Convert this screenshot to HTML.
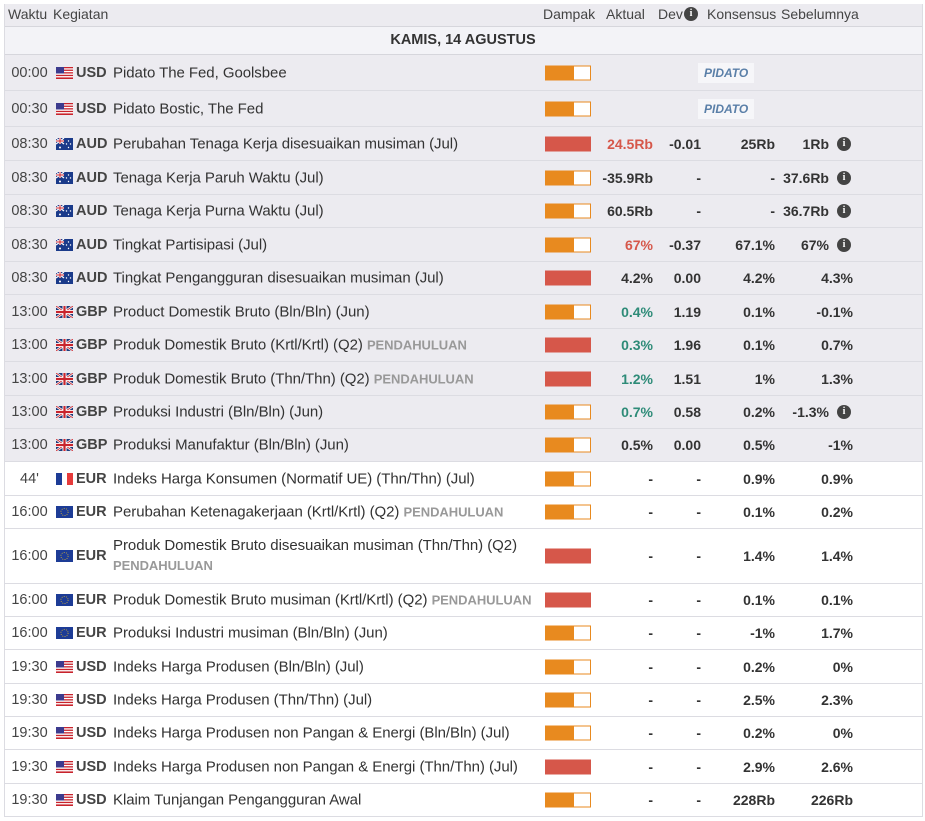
<!DOCTYPE html>
<html><head><meta charset="utf-8"><style>
body{margin:0;width:925px;height:821px;background:#fff;font-family:"Liberation Sans",Arial,sans-serif;color:#333;overflow:hidden;position:relative}
.hdr{position:absolute;left:4px;top:4px;width:918px;height:22px;background:#ecebf0;border-bottom:1px solid #d6d6dc;font-size:14px;color:#444}
.hdr span{position:absolute;top:2px}
.date{position:absolute;left:4px;top:27px;width:918px;height:27px;background:#f3f3f7;border-bottom:1px solid #d6d6dc;font-size:14.5px;font-weight:bold;text-align:center;line-height:27px;color:#333}
.r{position:absolute;left:4px;width:918px;border-bottom:1px solid #dcdce2;font-size:15px}
.g{background:#ecebf0}
.w{background:#fff}
.r>*{position:absolute;top:50%;transform:translateY(-50%)}
.t{left:0;width:51px;text-align:center;color:#444;font-size:14.5px}
.f{left:52px;width:17px;height:12px;display:block}
.c{left:72px;font-weight:bold;color:#444;font-size:14.5px}
.e{left:109px;color:#333;white-space:nowrap;letter-spacing:-0.05px}
.pre{color:#999;font-weight:bold;font-size:13px}
.bar{left:541px;width:46px;height:15px;box-sizing:border-box}
.hi{background:#d6574a}
.md{background:linear-gradient(90deg,#e88a1f 0 28px,#fff 28px);border:1.5px solid #e88a1f}
.num{font-weight:bold;text-align:right;color:#333;font-size:14px}
.a{right:269px}.d{right:221px}.k{right:147px}.s{right:69px}.s2{right:93px}
.red{color:#d6574a}.grn{color:#2e8b78}
.i{right:71px;width:14px;height:14px;border-radius:50%;background:#444;color:#fff;font-size:10px;font-weight:bold;text-align:center;line-height:14px;font-family:"Liberation Serif",serif}
.pid{left:694px;background:#f6f6f9;color:#5a7fa8;font-size:12px;font-weight:bold;font-style:italic;padding:3px 6px}
</style></head><body>
<svg width="0" height="0" style="position:absolute">
<defs>
<symbol id="us" viewBox="0 0 17 12"><rect width="17" height="12" fill="#fff"/><g fill="#c8232c"><rect y="0" width="17" height="1.3"/><rect y="2.6" width="17" height="1.3"/><rect y="5.2" width="17" height="1.3"/><rect y="7.8" width="17" height="1.3"/><rect y="10.4" width="17" height="1.6"/></g><rect width="8" height="6.5" fill="#3c3b8e"/></symbol>
<symbol id="au" viewBox="0 0 17 12"><rect width="17" height="12" fill="#1a3a8a"/><path d="M0 0L8 6M8 0L0 6" stroke="#fff" stroke-width="1.2"/><path d="M4 0V6M0 3H8" stroke="#fff" stroke-width="2"/><path d="M4 0V6M0 3H8" stroke="#c8232c" stroke-width="1"/><g fill="#fff"><circle cx="4" cy="9.5" r="1"/><circle cx="12.5" cy="3" r=".7"/><circle cx="14.5" cy="6" r=".7"/><circle cx="12.5" cy="9.5" r=".7"/><circle cx="10.5" cy="6" r=".7"/></g></symbol>
<symbol id="uk" viewBox="0 0 17 12"><rect width="17" height="12" fill="#1f3a7a"/><path d="M0 0L17 12M17 0L0 12" stroke="#fff" stroke-width="2.4"/><path d="M0 0L17 12M17 0L0 12" stroke="#c8232c" stroke-width="0.9"/><path d="M8.5 0V12M0 6H17" stroke="#fff" stroke-width="4"/><path d="M8.5 0V12M0 6H17" stroke="#c8232c" stroke-width="2.2"/></symbol>
<symbol id="eu" viewBox="0 0 17 12"><rect width="17" height="12" fill="#1d3c96"/><circle cx="8.5" cy="6" r="3.6" fill="none" stroke="#c9a93a" stroke-width=".9" stroke-dasharray="1 1.3"/></symbol>
<symbol id="fr" viewBox="0 0 17 12"><rect width="6" height="12" fill="#1d3c96"/><rect x="6" width="5" height="12" fill="#fff"/><rect x="11" width="6" height="12" fill="#e63b3b"/></symbol>
</defs></svg>
<div class="hdr"><span style="left:4px">Waktu</span><span style="left:49px">Kegiatan</span><span style="left:539px">Dampak</span><span style="left:602px">Aktual</span><span style="left:654px">Dev</span><span style="left:680px;top:3px;width:14px;height:14px;border-radius:50%;background:#444;color:#fff;font-size:10px;text-align:center;line-height:14px;font-weight:bold;font-family:'Liberation Serif',serif">i</span><span style="left:703px">Konsensus</span><span style="left:777px">Sebelumnya</span></div>
<div class="date">KAMIS, 14 AGUSTUS</div>

<div class="r g" style="top:55px;height:35px"><span class="t">00:00</span><svg class="f"><use href="#us"/></svg><span class="c">USD</span><span class="e">Pidato The Fed, Goolsbee</span><span class="bar md"></span><span class="pid">PIDATO</span></div>
<div class="r g" style="top:91px;height:35px"><span class="t">00:30</span><svg class="f"><use href="#us"/></svg><span class="c">USD</span><span class="e">Pidato Bostic, The Fed</span><span class="bar md"></span><span class="pid">PIDATO</span></div>
<div class="r g" style="top:127px;height:33px"><span class="t">08:30</span><svg class="f"><use href="#au"/></svg><span class="c">AUD</span><span class="e">Perubahan Tenaga Kerja disesuaikan musiman (Jul)</span><span class="bar hi"></span><span class="num a red">24.5Rb</span><span class="num d">-0.01</span><span class="num k">25Rb</span><span class="num s2">1Rb</span><span class="i">i</span></div>
<div class="r g" style="top:161px;height:33px"><span class="t">08:30</span><svg class="f"><use href="#au"/></svg><span class="c">AUD</span><span class="e">Tenaga Kerja Paruh Waktu (Jul)</span><span class="bar md"></span><span class="num a">-35.9Rb</span><span class="num d">-</span><span class="num k">-</span><span class="num s2">37.6Rb</span><span class="i">i</span></div>
<div class="r g" style="top:195px;height:32px"><span class="t">08:30</span><svg class="f"><use href="#au"/></svg><span class="c">AUD</span><span class="e">Tenaga Kerja Purna Waktu (Jul)</span><span class="bar md"></span><span class="num a">60.5Rb</span><span class="num d">-</span><span class="num k">-</span><span class="num s2">36.7Rb</span><span class="i">i</span></div>
<div class="r g" style="top:228px;height:33px"><span class="t">08:30</span><svg class="f"><use href="#au"/></svg><span class="c">AUD</span><span class="e">Tingkat Partisipasi (Jul)</span><span class="bar md"></span><span class="num a red">67%</span><span class="num d">-0.37</span><span class="num k">67.1%</span><span class="num s2">67%</span><span class="i">i</span></div>
<div class="r g" style="top:262px;height:32px"><span class="t">08:30</span><svg class="f"><use href="#au"/></svg><span class="c">AUD</span><span class="e">Tingkat Pengangguran disesuaikan musiman (Jul)</span><span class="bar hi"></span><span class="num a">4.2%</span><span class="num d">0.00</span><span class="num k">4.2%</span><span class="num s">4.3%</span></div>
<div class="r g" style="top:295px;height:33px"><span class="t">13:00</span><svg class="f"><use href="#uk"/></svg><span class="c">GBP</span><span class="e">Product Domestik Bruto (Bln/Bln) (Jun)</span><span class="bar md"></span><span class="num a grn">0.4%</span><span class="num d">1.19</span><span class="num k">0.1%</span><span class="num s">-0.1%</span></div>
<div class="r g" style="top:329px;height:32px"><span class="t">13:00</span><svg class="f"><use href="#uk"/></svg><span class="c">GBP</span><span class="e">Produk Domestik Bruto (Krtl/Krtl) (Q2) <span class="pre">PENDAHULUAN</span></span><span class="bar hi"></span><span class="num a grn">0.3%</span><span class="num d">1.96</span><span class="num k">0.1%</span><span class="num s">0.7%</span></div>
<div class="r g" style="top:362px;height:33px"><span class="t">13:00</span><svg class="f"><use href="#uk"/></svg><span class="c">GBP</span><span class="e">Produk Domestik Bruto (Thn/Thn) (Q2) <span class="pre">PENDAHULUAN</span></span><span class="bar hi"></span><span class="num a grn">1.2%</span><span class="num d">1.51</span><span class="num k">1%</span><span class="num s">1.3%</span></div>
<div class="r g" style="top:396px;height:32px"><span class="t">13:00</span><svg class="f"><use href="#uk"/></svg><span class="c">GBP</span><span class="e">Produksi Industri (Bln/Bln) (Jun)</span><span class="bar md"></span><span class="num a grn">0.7%</span><span class="num d">0.58</span><span class="num k">0.2%</span><span class="num s2">-1.3%</span><span class="i">i</span></div>
<div class="r g" style="top:429px;height:32px"><span class="t">13:00</span><svg class="f"><use href="#uk"/></svg><span class="c">GBP</span><span class="e">Produksi Manufaktur (Bln/Bln) (Jun)</span><span class="bar md"></span><span class="num a">0.5%</span><span class="num d">0.00</span><span class="num k">0.5%</span><span class="num s">-1%</span></div>
<div class="r w" style="top:462px;height:33px"><span class="t">44'</span><svg class="f"><use href="#fr"/></svg><span class="c">EUR</span><span class="e">Indeks Harga Konsumen (Normatif UE) (Thn/Thn) (Jul)</span><span class="bar md"></span><span class="num a">-</span><span class="num d">-</span><span class="num k">0.9%</span><span class="num s">0.9%</span></div>
<div class="r w" style="top:496px;height:32px"><span class="t">16:00</span><svg class="f"><use href="#eu"/></svg><span class="c">EUR</span><span class="e">Perubahan Ketenagakerjaan (Krtl/Krtl) (Q2) <span class="pre">PENDAHULUAN</span></span><span class="bar md"></span><span class="num a">-</span><span class="num d">-</span><span class="num k">0.1%</span><span class="num s">0.2%</span></div>
<div class="r w" style="top:529px;height:54px"><span class="t">16:00</span><svg class="f"><use href="#eu"/></svg><span class="c">EUR</span><span class="e" style="line-height:20px">Produk Domestik Bruto disesuaikan musiman (Thn/Thn) (Q2)<br><span class="pre">PENDAHULUAN</span></span><span class="bar hi"></span><span class="num a">-</span><span class="num d">-</span><span class="num k">1.4%</span><span class="num s">1.4%</span></div>
<div class="r w" style="top:584px;height:32px"><span class="t">16:00</span><svg class="f"><use href="#eu"/></svg><span class="c">EUR</span><span class="e">Produk Domestik Bruto musiman (Krtl/Krtl) (Q2) <span class="pre">PENDAHULUAN</span></span><span class="bar hi"></span><span class="num a">-</span><span class="num d">-</span><span class="num k">0.1%</span><span class="num s">0.1%</span></div>
<div class="r w" style="top:617px;height:32px"><span class="t">16:00</span><svg class="f"><use href="#eu"/></svg><span class="c">EUR</span><span class="e">Produksi Industri musiman (Bln/Bln) (Jun)</span><span class="bar md"></span><span class="num a">-</span><span class="num d">-</span><span class="num k">-1%</span><span class="num s">1.7%</span></div>
<div class="r w" style="top:650px;height:33px"><span class="t">19:30</span><svg class="f"><use href="#us"/></svg><span class="c">USD</span><span class="e">Indeks Harga Produsen (Bln/Bln) (Jul)</span><span class="bar md"></span><span class="num a">-</span><span class="num d">-</span><span class="num k">0.2%</span><span class="num s">0%</span></div>
<div class="r w" style="top:684px;height:32px"><span class="t">19:30</span><svg class="f"><use href="#us"/></svg><span class="c">USD</span><span class="e">Indeks Harga Produsen (Thn/Thn) (Jul)</span><span class="bar md"></span><span class="num a">-</span><span class="num d">-</span><span class="num k">2.5%</span><span class="num s">2.3%</span></div>
<div class="r w" style="top:717px;height:32px"><span class="t">19:30</span><svg class="f"><use href="#us"/></svg><span class="c">USD</span><span class="e">Indeks Harga Produsen non Pangan &amp; Energi (Bln/Bln) (Jul)</span><span class="bar md"></span><span class="num a">-</span><span class="num d">-</span><span class="num k">0.2%</span><span class="num s">0%</span></div>
<div class="r w" style="top:750px;height:33px"><span class="t">19:30</span><svg class="f"><use href="#us"/></svg><span class="c">USD</span><span class="e">Indeks Harga Produsen non Pangan &amp; Energi (Thn/Thn) (Jul)</span><span class="bar hi"></span><span class="num a">-</span><span class="num d">-</span><span class="num k">2.9%</span><span class="num s">2.6%</span></div>
<div class="r w" style="top:784px;height:32px"><span class="t">19:30</span><svg class="f"><use href="#us"/></svg><span class="c">USD</span><span class="e">Klaim Tunjangan Pengangguran Awal</span><span class="bar md"></span><span class="num a">-</span><span class="num d">-</span><span class="num k">228Rb</span><span class="num s">226Rb</span></div>
<div style="position:absolute;left:4px;top:4px;width:0;height:813px;border-left:1px solid #dcdce2"></div>
<div style="position:absolute;left:922px;top:4px;width:0;height:813px;border-left:1px solid #dcdce2"></div>
</body></html>
